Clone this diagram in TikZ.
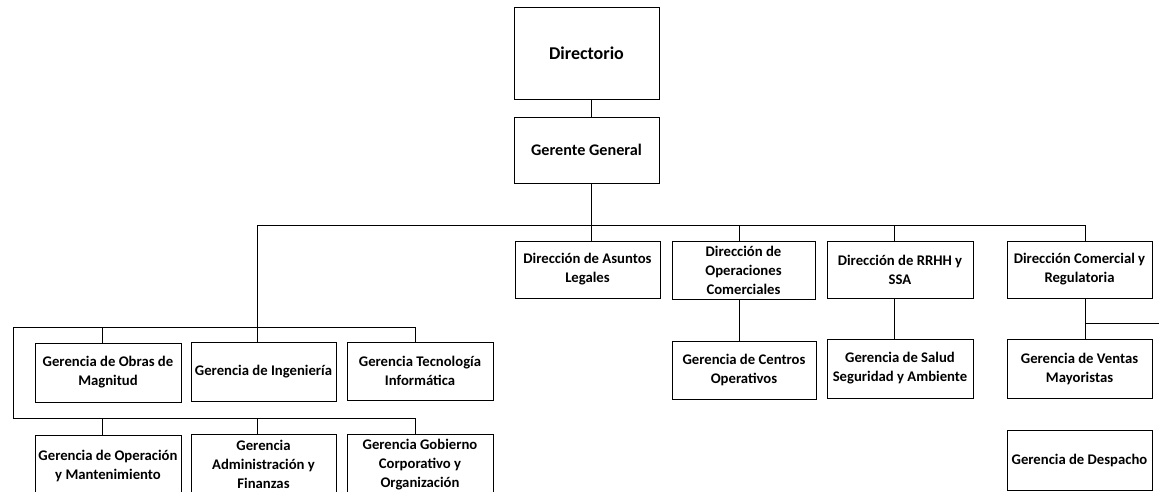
\documentclass[tikz,border=0pt]{standalone}
\usepackage{fontspec}
\setmainfont{Carlito}
\begin{document}
\begin{tikzpicture}[x=1pt,y=-1pt,
  box/.style={draw=black, line width=0.9pt, fill=white, inner sep=0pt, align=center,
    font=\bfseries\fontsize{14.7}{19}\selectfont},
  conn/.style={draw=black, line width=0.9pt}]
\useasboundingbox (0,0) rectangle (1159,491);
\fill[white] (0,0) rectangle (1159,491);
\clip (0,0) rectangle (1159,491);
% top
\node[box, minimum width=145pt, minimum height=92pt, font=\bfseries\fontsize{18}{22}\selectfont] (dir) at (586.5,53) {Directorio};
\node[box, minimum width=145pt, minimum height=66pt, font=\bfseries\fontsize{16.2}{20}\selectfont] (gg) at (586.5,150) {Gerente General};
% direcciones
\node[box, minimum width=145pt, minimum height=57pt] (legal) at (587.5,269.5) {Dirección de Asuntos\\Legales};
\node[box, minimum width=143pt, minimum height=58pt] (opcom) at (743.5,270) {Dirección de\\Operaciones\\Comerciales};
\node[box, minimum width=146pt, minimum height=57pt] (rrhh) at (900,269.5) {Dirección de RRHH y\\SSA};
\node[box, minimum width=145pt, minimum height=57pt] (comreg) at (1079.5,269.5) {Dirección Comercial y\\Regulatoria};
% gerencias derecha
\node[box, minimum width=144pt, minimum height=58pt] (centros) at (744,370) {Gerencia de Centros\\Operativos};
\node[box, minimum width=146pt, minimum height=59pt] (salud) at (900,368.5) {Gerencia de Salud\\Seguridad y Ambiente};
\node[box, minimum width=145pt, minimum height=59pt] (ventas) at (1079.5,368.5) {Gerencia de Ventas\\Mayoristas};
\node[box, minimum width=145pt, minimum height=60pt] (despacho) at (1079.5,460) {Gerencia de Despacho};
% gerencias izquierda
\node[box, minimum width=146pt, minimum height=59pt] (obras) at (108,372.5) {Gerencia de Obras de\\Magnitud};
\node[box, minimum width=145pt, minimum height=59pt] (ing) at (263.5,371.5) {Gerencia de Ingeniería};
\node[box, minimum width=146pt, minimum height=58pt] (tec) at (420,371) {Gerencia Tecnología\\Informática};
\node[box, minimum width=146pt, minimum height=61pt] (opman) at (108,465.5) {Gerencia de Operación\\y Mantenimiento};
\node[box, minimum width=145pt, minimum height=61pt] (admin) at (263.5,464.5) {Gerencia\\Administración y\\Finanzas};
\node[box, minimum width=146pt, minimum height=61pt] (gob) at (420,464.5) {Gerencia Gobierno\\Corporativo y\\Organización};
% coordinates
\coordinate (busL) at (257,225);
\coordinate (busR) at (1085,225);
\coordinate (upL) at (13,327);
\coordinate (upR) at (415,327);
\coordinate (loL) at (13,418);
\coordinate (loR) at (415,418);
\coordinate (edge) at (1159,323);
% connectors
\draw[conn] ([xshift=5pt]dir.south) -- ([xshift=5pt]gg.north);
\draw[conn] ([xshift=5pt]gg.south) coordinate (gs) -- (gs |- legal.north);
\draw[conn] (busL) -- (busR);
\draw[conn] (busL) -- ([xshift=-6.5pt]ing.north);
\draw[conn] ([xshift=-4.5pt]opcom.north) coordinate (oc) -- (oc |- busL);
\draw[conn] ([xshift=-4.5pt]opcom.south) coordinate (ocs) -- (ocs |- centros.north);
\draw[conn] ([xshift=-6pt]rrhh.north) coordinate (rh) -- (rh |- busL);
\draw[conn] ([xshift=-6pt]rrhh.south) coordinate (rhs) -- (rhs |- salud.north);
\draw[conn] (busR) -- (busR |- comreg.north);
\draw[conn] ([xshift=5.5pt]comreg.south) coordinate (crs) -- (crs |- ventas.north);
\draw[conn] (crs |- edge) -- (edge);
% left brackets
\draw[conn] (upL) -- (upR) -- ([xshift=-5pt]tec.north);
\draw[conn] ([xshift=-6pt]obras.north) coordinate (ob) -- (ob |- upL);
\draw[conn] (upL) -- (loL) -- (loR) -- ([xshift=-5pt]gob.north);
\draw[conn] ([xshift=-6pt]opman.north) coordinate (om) -- (om |- loL);
\draw[conn] ([xshift=-6.5pt]admin.north) coordinate (ad) -- (ad |- loL);
\end{tikzpicture}
\end{document}
